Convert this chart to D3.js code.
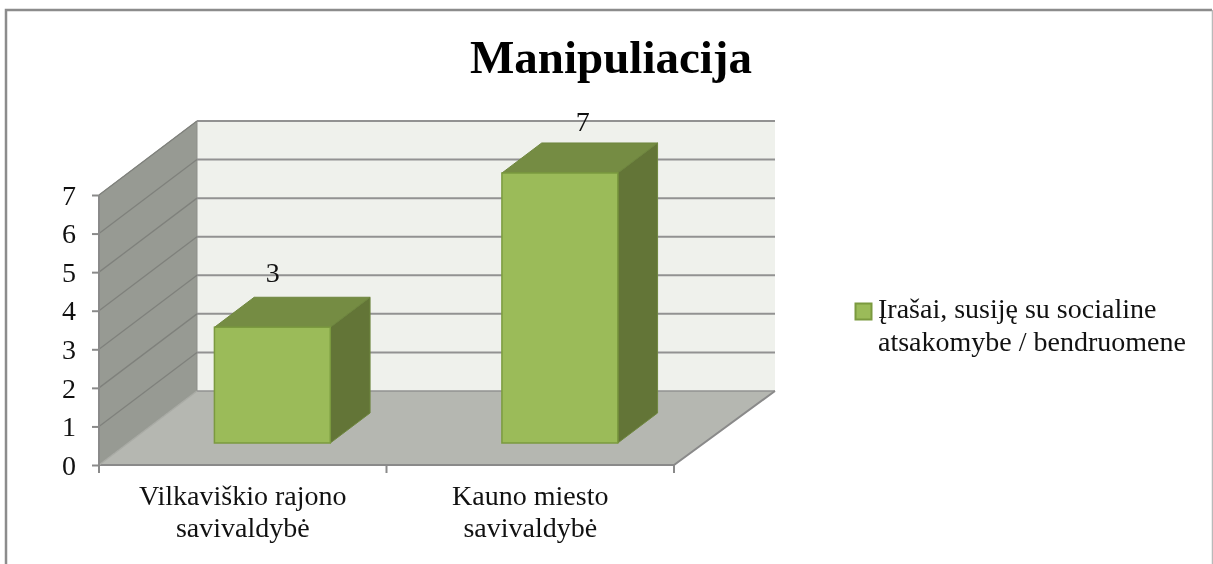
<!DOCTYPE html>
<html><head><meta charset="utf-8">
<script src="https://cdn.jsdelivr.net/npm/d3@7"></script>
<style>
html,body{margin:0;padding:0;background:#fff;overflow:hidden}
svg{display:block;filter:blur(0.35px)}
text{font-family:"Liberation Serif",serif;fill:#111}
</style></head><body><svg id="c" width="1213" height="564"></svg>
<script>
const chartTitle = "Manipuliacija";
const categories = [["Vilkaviškio rajono","savivaldybė"],["Kauno miesto","savivaldybė"]];
const values = [3, 7];
const valueTicks = [0,1,2,3,4,5,6,7];
const legendLines = ["Įrašai, susiję su socialine","atsakomybe / bendruomene"];

const svg = d3.select("#c");
const x = d3.scaleBand().domain(d3.range(categories.length)).range([99,674]);
const y = d3.scaleLinear().domain([0,7]).range([465,195]);
const depth = d3.scaleLinear().domain([0,1]).range([0,98]);
const lift = d3.scaleLinear().domain([0,1]).range([0,74]);
const P = (px,py,z)=>[px+depth(z), py-lift(z)];
const poly = (pts,fill,stroke,sw)=>svg.append("polygon")
  .attr("points",pts.map(p=>p.join(",")).join(" "))
  .attr("fill",fill).attr("stroke",stroke||"none").attr("stroke-width",sw||0);
const frameCol="#8c8c8c";

// frame (open at the bottom)
svg.append("path").attr("d","M6,564V10H1212").attr("fill","none").attr("stroke",frameCol).attr("stroke-width",2.5);
svg.append("path").attr("d","M1212.5,10V564").attr("fill","none").attr("stroke","#b9b9b9").attr("stroke-width",1.5);

// title
svg.append("text").attr("x",611).attr("y",73).attr("text-anchor","middle")
  .attr("font-size",47).attr("font-weight","bold").style("fill","#000").text(chartTitle);

const [x0,x1]=x.range(), y0=y(0), yT=y(7);
const xB1=x1+3; // the back wall runs slightly further right than the front edge
// walls
poly([P(x0,yT,1),P(xB1,yT,1),P(xB1,y0,1),P(x0,y0,1)],"#eff1ec");
poly([P(x0,y0,0),P(x0,yT,0),P(x0,yT,1),P(x0,y0,1)],"#979a93","#8d8f89",1);
poly([P(x0,y0,0),P(x1,y0,0),P(xB1,y0,1),P(x0,y0,1)],"#b5b7b1");

// gridlines
valueTicks.forEach(t=>{
  const a=P(x0,y(t),0), b=P(x0,y(t),1), c=P(xB1,y(t),1);
  if(t>0) svg.append("line").attr("x1",a[0]).attr("y1",a[1]).attr("x2",b[0]).attr("y2",b[1])
    .attr("stroke","#7f817c").attr("stroke-width",1.3);
  svg.append("line").attr("x1",b[0]).attr("y1",b[1]).attr("x2",c[0]).attr("y2",c[1])
    .attr("stroke","#929292").attr("stroke-width",t===0?1.5:2);
});
// floor edges
svg.append("path").attr("d",d3.line()([P(x0,y0,0),P(x1,y0,0),P(xB1,y0,1)]))
  .attr("fill","none").attr("stroke","#8a8a8a").attr("stroke-width",2);
svg.append("path").attr("d",d3.line()([P(x0,y0,0),P(x0,y0,1)]))
  .attr("fill","none").attr("stroke","#a9aba5").attr("stroke-width",1.5);

// axes
const gy=svg.append("g").attr("transform",`translate(${x0},0)`)
  .call(d3.axisLeft(y).tickValues(valueTicks).tickFormat(d3.format("d")).tickSize(7).tickPadding(16));
gy.select(".domain").attr("stroke","#8a8a8a").attr("stroke-width",2).attr("d",`M0,${yT}V${y0}`);
gy.selectAll("line").attr("stroke","#8a8a8a").attr("stroke-width",2);
gy.selectAll("text").attr("font-size",28).attr("font-family",null).attr("dy","0.33em").style("fill","#111");

const gx=svg.append("g").attr("transform",`translate(0,${y0})`);
[x0,x0+x.bandwidth(),x1].forEach(v=>gx.append("line").attr("x1",v).attr("x2",v).attr("y1",0).attr("y2",8)
  .attr("stroke","#8a8a8a").attr("stroke-width",2));
categories.forEach((lines,i)=>lines.forEach((l,j)=>{
  gx.append("text").attr("x",x(i)+x.bandwidth()/2).attr("y",40+j*32).attr("text-anchor","middle")
    .attr("font-size",28).text(l);
}));

// bars
const barShare=0.403, zFront=0.297, zBack=0.703;
const labelShift=[[-39.5,-15],[-17,-11.5]]; // hand-placed data labels
values.forEach((v,i)=>{
  const c=x(i)+x.bandwidth()/2+0.5, w=x.bandwidth()*barShare, l=c-w/2, r=c+w/2, b=y(0), t=y(v);
  const edge="#7b9a3f";
  poly([P(l,t,zFront),P(r,t,zFront),P(r,t,zBack),P(l,t,zBack)],"#758c43","#6f873f",1);
  poly([P(r,b,zFront),P(r,t,zFront),P(r,t,zBack),P(r,b,zBack)],"#637537","#6f873f",1);
  poly([P(l,b,zFront),P(r,b,zFront),P(r,t,zFront),P(l,t,zFront)],"#9bbb59",edge,1.5);
  const lab=P(c,t,zBack);
  svg.append("text").attr("x",lab[0]+labelShift[i][0]).attr("y",lab[1]+labelShift[i][1]).attr("text-anchor","middle")
    .attr("font-size",28).text(v);
});

// legend
svg.append("rect").attr("x",855.5).attr("y",303.5).attr("width",16).attr("height",16)
  .attr("fill","#9bbb59").attr("stroke","#7b9a3f").attr("stroke-width",2);
legendLines.forEach((l,i)=>svg.append("text").attr("x",878).attr("y",318+i*33).attr("font-size",28).text(l));
</script></body></html>
